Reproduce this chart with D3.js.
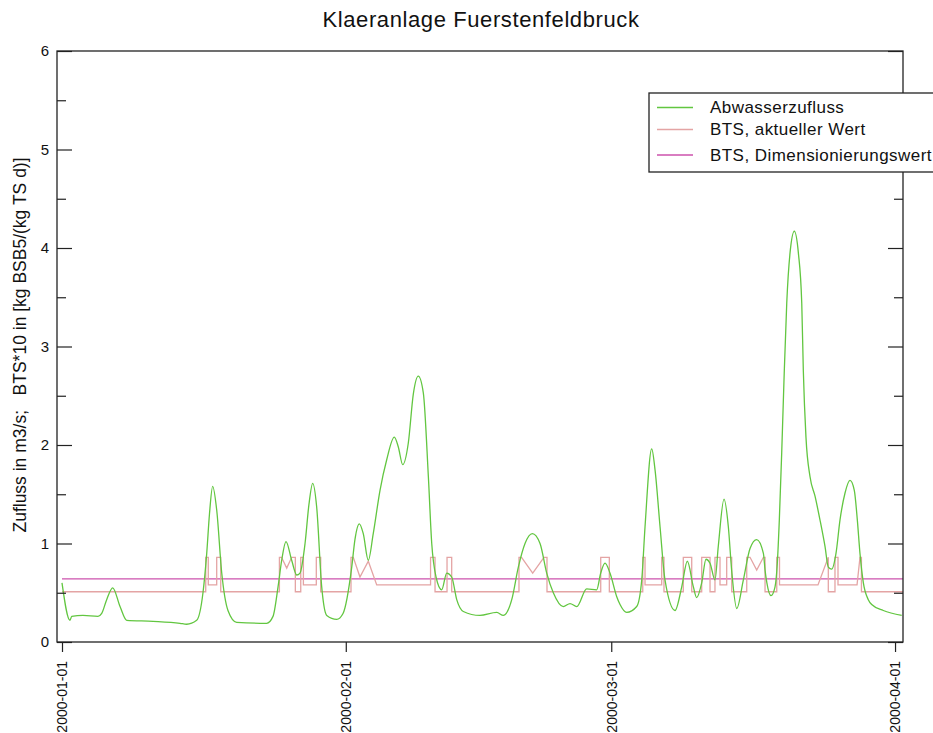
<!DOCTYPE html>
<html><head><meta charset="utf-8">
<script src="https://cdn.jsdelivr.net/npm/d3@7"></script>
<style>
html,body{margin:0;padding:0;background:#fff;overflow:hidden;}
svg{display:block;font-family:"Liberation Sans",Arial,sans-serif;}
</style></head>
<body><svg id="c" width="933" height="733"></svg>
<script>
// ---- data ----
const title = "Klaeranlage Fuerstenfeldbruck";
const yLabel = "Zufluss in m3/s;\u00a0\u00a0\u00a0BTS*10 in [kg BSB5/(kg TS d)]";
const seriesNames = ["Abwasserzufluss", "BTS, aktueller Wert", "BTS, Dimensionierungswert"];
const dateTicks = ["2000-01-01", "2000-02-01", "2000-03-01", "2000-04-01"];
const yMajorTicks = [0, 1, 2, 3, 4, 5, 6];
const yMinorTicks = [0.5, 1.5, 2.5, 3.5, 4.5, 5.5];
const startDate = "2000-01-01";

// Abwasserzufluss: days after 2000-01-01 and value
const flowDays = [0,0.87,1.06,2.29,3.93,4.34,4.88,5.54,6.34,7.07,9.94,12.89,13.62,14.71,15.40,15.81,16.11,16.46,16.90,17.45,18.13,19.08,22.36,23.05,23.60,24.00,24.47,25.09,25.64,26.00,26.55,26.98,27.39,27.82,28.37,28.92,30.01,30.70,31.65,32.00,32.48,32.91,33.46,34.00,34.74,35.47,36.30,36.74,37.22,37.83,38.38,38.92,39.47,40.02,40.39,40.86,41.48,42.03,42.57,43.12,43.84,45.66,47.49,48.21,49.13,49.85,50.58,51.38,52.22,52.95,53.67,54.76,55.50,56.23,57.32,58.41,58.85,59.32,59.86,60.60,60.96,61.69,62.78,63.33,63.69,64.42,64.78,65.33,65.87,66.97,67.70,68.31,68.97,69.33,69.88,70.35,70.79,71.33,71.69,72.32,72.79,73.16,73.71,74.43,75.16,75.89,76.62,76.80,77.00,77.45,77.89,78.14,78.36,78.62,78.87,79.17,79.53,80.00,80.44,80.81,80.98,81.27,81.71,82.26,82.80,83.35,83.71,84.08,84.55,84.99,85.53,86.08,86.55,86.88,87.17,87.54,88.08,88.45,89.72,91.73];
const flowValues = [0.60,0.22,0.26,0.27,0.26,0.29,0.43,0.55,0.36,0.22,0.21,0.19,0.18,0.22,0.50,0.90,1.30,1.58,1.34,0.70,0.32,0.20,0.19,0.26,0.56,0.83,1.02,0.83,0.68,0.70,1.00,1.40,1.61,1.37,0.56,0.27,0.23,0.29,0.76,1.04,1.20,1.10,0.83,1.10,1.54,1.85,2.08,1.98,1.80,2.02,2.52,2.70,2.53,1.68,1.00,0.66,0.53,0.70,0.66,0.43,0.31,0.27,0.30,0.27,0.43,0.76,1.00,1.10,1.00,0.70,0.50,0.36,0.39,0.36,0.54,0.53,0.70,0.80,0.70,0.46,0.38,0.30,0.36,0.63,1.17,1.96,1.75,1.17,0.63,0.32,0.56,0.82,0.56,0.45,0.60,0.84,0.80,0.63,0.97,1.45,1.17,0.72,0.34,0.63,0.95,1.04,0.90,0.73,0.60,0.47,0.56,0.80,1.24,1.92,2.66,3.44,3.95,4.17,3.95,3.44,2.76,2.08,1.68,1.48,1.24,0.97,0.76,0.74,0.90,1.24,1.51,1.64,1.54,1.24,0.90,0.60,0.43,0.38,0.32,0.27];

// BTS, aktueller Wert (step-like)
const btsDays = [0,15.70,15.70,15.98,15.98,16.90,16.90,17.34,17.34,
 23.75,23.75,23.98,24.55,25.09,25.49,25.49,26.08,26.08,26.37,26.37,27.78,27.78,28.26,28.26,
 31.57,31.57,31.82,32.55,33.46,34.38,40.26,40.26,40.75,40.75,42.06,42.06,42.57,42.57,
 49.92,49.92,50.20,51.42,52.65,52.98,52.98,
 58.85,58.85,59.79,59.79,
 63.44,63.44,63.69,63.69,65.51,65.51,65.76,65.76,
 67.87,67.87,68.79,68.79,69.88,69.88,70.79,70.79,71.33,71.33,71.88,71.88,72.61,72.61,73.16,73.16,
 74.80,74.80,75.16,75.89,76.62,76.80,76.80,78.08,78.08,78.38,78.38,82.58,83.71,83.71,84.44,84.44,84.77,84.77,86.85,87.17,87.33,87.33,91.87];
const btsValues = [0.51,0.51,0.86,0.86,0.58,0.58,0.86,0.86,0.51,
 0.51,0.86,0.86,0.75,0.86,0.86,0.51,0.51,0.86,0.86,0.58,0.58,0.86,0.86,0.51,
 0.51,0.86,0.86,0.66,0.82,0.58,0.58,0.86,0.86,0.51,0.51,0.86,0.86,0.51,
 0.51,0.86,0.86,0.70,0.86,0.86,0.51,
 0.51,0.86,0.86,0.51,
 0.51,0.86,0.86,0.58,0.58,0.86,0.86,0.51,
 0.51,0.86,0.86,0.51,0.51,0.86,0.86,0.51,0.51,0.86,0.86,0.58,0.58,0.86,0.86,0.51,
 0.51,0.86,0.86,0.73,0.86,0.86,0.51,0.51,0.86,0.86,0.58,0.58,0.86,0.51,0.51,0.86,0.86,0.58,0.58,0.86,0.86,0.51,0.51];

// BTS, Dimensionierungswert (constant)
const designDays = [0, 91.87];
const designValues = [0.64, 0.64];

const colors = ["#62c640", "#e4a4a4", "#cc52ad"];

// ---- chart ----
const L = 57, R = 903, T = 51, B = 642;
const t0 = Date.parse(startDate + "T00:00:00Z");
const toDate = d => new Date(t0 + d * 864e5);

const svg = d3.select("#c");
const x = d3.scaleUtc().domain([toDate(-0.546), toDate(91.87)]).range([L, R]);
const y = d3.scaleLinear().domain([0, 6]).range([B, T]);

svg.append("defs").append("clipPath").attr("id", "clip")
  .append("rect").attr("x", L).attr("y", T).attr("width", R - L).attr("height", B - T);

// title
svg.append("text").attr("x", 481).attr("y", 27).attr("text-anchor", "middle")
  .style("font-size", "22px").style("letter-spacing", "0.6px").attr("fill", "#111").text(title);

// y label
svg.append("text").attr("transform", "translate(20,345) rotate(-90)")
  .attr("text-anchor", "middle").attr("dy", "0.35em")
  .style("font-size", "17.5px").attr("fill", "#111").text(yLabel);

// lines
const line = d3.line().x(d => x(toDate(d[0]))).y(d => y(d[1]));
const g = svg.append("g").attr("clip-path", "url(#clip)");
g.append("path").datum(designDays.map((d, i) => [d, designValues[i]]))
  .attr("d", line).attr("fill", "none").attr("stroke", colors[2]).attr("stroke-width", 1.3);
g.append("path").datum(btsDays.map((d, i) => [d, btsValues[i]]))
  .attr("d", line).attr("fill", "none").attr("stroke", colors[1]).attr("stroke-width", 1.3);
g.append("path").datum(flowDays.map((d, i) => [d, flowValues[i]]))
  .attr("d", d3.line().x(d => x(toDate(d[0]))).y(d => y(d[1])).curve(d3.curveMonotoneX))
  .attr("fill", "none").attr("stroke", colors[0]).attr("stroke-width", 1.3);

// axes
const axisStyle = sel => {
  sel.select(".domain").remove();
  sel.selectAll("line").attr("stroke", "#222").attr("stroke-width", 1.2);
  sel.selectAll("text").attr("fill", "#111").style("font-size", "15px")
     .style("font-family", "'Liberation Sans',Arial,sans-serif");
};
svg.append("g").attr("transform", `translate(${L},0)`)
  .call(d3.axisLeft(y).tickValues(yMajorTicks).tickSize(-15).tickPadding(8).tickFormat(d3.format("d")))
  .call(axisStyle);
svg.append("g").attr("transform", `translate(${L},0)`)
  .call(d3.axisLeft(y).tickValues(yMinorTicks).tickSize(-9).tickFormat(""))
  .call(axisStyle);
svg.append("g").attr("transform", `translate(${R},0)`)
  .call(d3.axisRight(y).tickValues(yMajorTicks).tickSize(-15).tickFormat(""))
  .call(axisStyle);
svg.append("g").attr("transform", `translate(${R},0)`)
  .call(d3.axisRight(y).tickValues(yMinorTicks).tickSize(-9).tickFormat(""))
  .call(axisStyle);

const xa = svg.append("g").attr("transform", `translate(0,${B})`)
  .call(d3.axisBottom(x).tickValues(dateTicks.map(s => new Date(s + "T00:00:00Z")))
    .tickSize(10).tickFormat((d, i) => dateTicks[i]))
  .call(axisStyle);
xa.selectAll("text").style("font-size", "14px")
  .attr("text-anchor", "end").attr("transform", "rotate(-90)")
  .attr("x", -19).attr("y", 0).attr("dy", "0.35em");

// frame
svg.append("rect").attr("x", L).attr("y", T).attr("width", R - L).attr("height", B - T)
  .attr("fill", "none").attr("stroke", "#222").attr("stroke-width", 1.3);

// legend
const lg = svg.append("g");
lg.append("rect").attr("x", 649).attr("y", 93).attr("width", 330).attr("height", 79)
  .attr("fill", "#fff").attr("stroke", "#222").attr("stroke-width", 1.3);
const ly = [107.5, 129.5, 155];
seriesNames.forEach((name, i) => {
  lg.append("line").attr("x1", 657).attr("x2", 693).attr("y1", ly[i]).attr("y2", ly[i])
    .attr("stroke", colors[i]).attr("stroke-width", 1.3);
  lg.append("text").attr("x", 710).attr("y", ly[i]).attr("dy", "0.35em")
    .style("font-size", "17px").style("letter-spacing", "0.45px").attr("fill", "#111").text(name);
});
</script></body></html>
